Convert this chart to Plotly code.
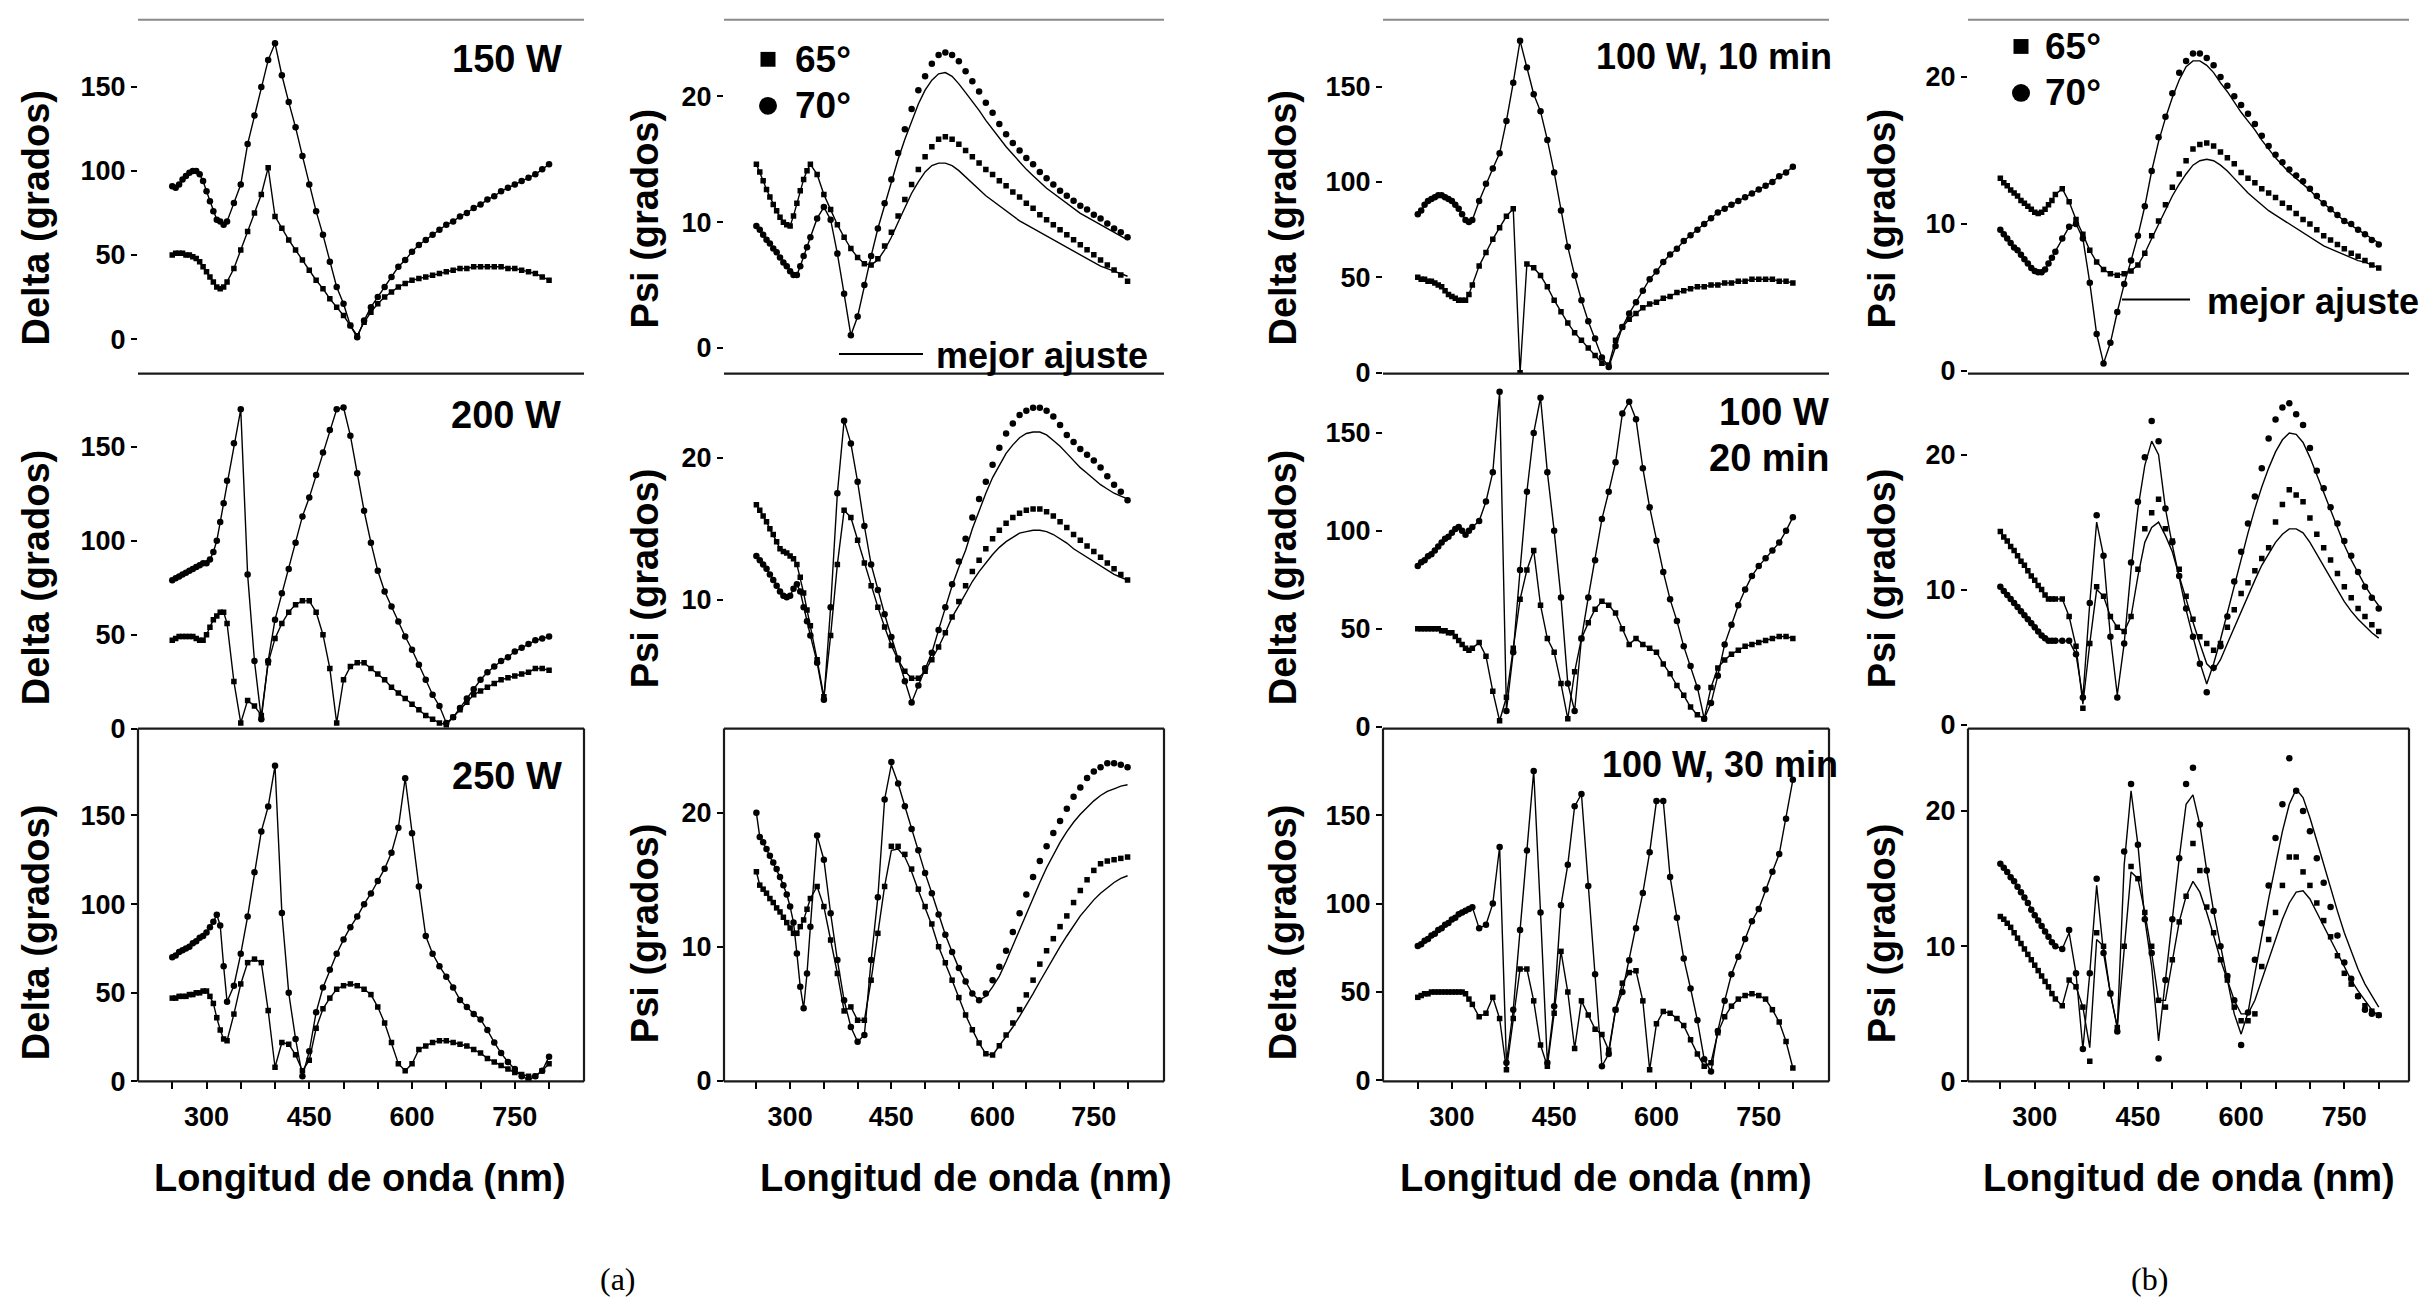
import plotly.graph_objects as go

W, H = 2421, 1310
FONT = "Liberation Sans"

# ---------------- wavelength grid (nm) ----------------
WL = [250, 255, 260, 265, 270, 275, 280, 285, 290, 295, 300, 305, 310, 315, 320, 325, 330,
      340, 350, 360, 370, 380, 390, 400, 410, 420, 430,
      440, 450, 460, 470, 480, 490, 500, 510, 520, 530,
      540, 550, 560, 570, 580, 590, 600, 610, 620, 630,
      640, 650, 660, 670, 680, 690, 700, 710, 720, 730,
      740, 750, 760, 770, 780, 790, 800]

X_TICKS = [250, 300, 350, 400, 450, 500, 550, 600, 650, 700, 750, 800]
X_TICKTEXT = ['', '300', '', '', '450', '', '', '600', '', '', '750', '']
DELTA_TICKS = [0, 50, 100, 150]
PSI_TICKS = [0, 10, 20]

# ---------------- (a) 150 W ----------------
W150_D70 = [91, 90, 92, 95, 97, 99, 100, 100, 98, 94, 88, 82, 76, 71, 70, 68, 70,
            81, 92, 116, 133, 150, 166, 176, 157, 141, 126,
            109, 92, 76, 62, 46, 31, 21, 8, 1, 11,
            19, 25, 31, 37, 43, 47, 52, 56, 59, 62,
            65, 68, 70, 73, 75, 78, 80, 83, 85, 88,
            90, 92, 94, 96, 98, 101, 104]
W150_D65 = [50, 51, 51, 51, 50, 50, 49, 48, 46, 43, 40, 37, 34, 31, 30, 31, 34,
            42, 53, 64, 75, 86, 102, 73, 66, 59, 53,
            47, 41, 35, 30, 24, 19, 14, 8, 2, 10,
            16, 21, 25, 28, 31, 33, 35, 36, 37, 38,
            39, 40, 41, 42, 42, 43, 43, 43, 43, 43,
            42, 42, 41, 40, 39, 37, 35]
W150_P70 = [9.7, 9.4, 9.0, 8.6, 8.3, 7.9, 7.6, 7.2, 6.8, 6.5, 6.1, 5.8, 5.8, 6.5, 7.3, 8.0, 8.8,
            10.3, 11.2, 10.2, 7.5, 4.3, 1.0, 2.5, 5.0, 7.3, 9.5,
            11.5, 13.4, 15.5, 17.4, 19.0, 20.5, 21.6, 22.6, 23.3, 23.5,
            23.3, 22.8, 22.0, 21.2, 20.4, 19.5, 18.7, 17.8, 17.0, 16.3,
            15.7, 15.1, 14.6, 14.0, 13.5, 13.0, 12.5, 12.1, 11.7, 11.3,
            11.0, 10.6, 10.3, 9.9, 9.5, 9.2, 8.8]
W150_P70_FIT = W150_P70[:17] + [
            10.3, 11.2, 10.2, 7.5, 4.3, 1.0, 2.5, 5.0, 7.3, 9.5,
            11.4, 13.2, 15.0, 16.6, 18.0, 19.4, 20.5, 21.3, 21.8, 21.9,
            21.6, 21.0, 20.3, 19.6, 18.9, 18.1, 17.4, 16.7, 16.0, 15.4,
            14.8, 14.2, 13.7, 13.2, 12.7, 12.3, 11.9, 11.5, 11.1, 10.7,
            10.4, 10.1, 9.8, 9.5, 9.2, 8.9, 8.6]
W150_P65 = [14.6, 14.0, 13.3, 12.6, 12.0, 11.4, 10.9, 10.4, 10.0, 9.8, 9.7, 10.5, 11.5, 12.5, 13.4, 14.1, 14.6,
            13.8, 12.2, 11.0, 9.8, 8.8, 7.9, 7.2, 6.7, 6.6, 7.1,
            8.1, 9.2, 10.5, 11.8, 13.0, 14.2, 15.2, 16.0, 16.6, 16.8,
            16.6, 16.2, 15.7, 15.2, 14.7, 14.2, 13.8, 13.3, 12.9, 12.4,
            12.0, 11.5, 11.1, 10.6, 10.2, 9.8, 9.4, 9.0, 8.6, 8.2,
            7.8, 7.4, 7.0, 6.6, 6.2, 5.8, 5.3]
W150_P65_FIT = W150_P65[:17] + [
            13.8, 12.2, 11.0, 9.8, 8.8, 7.9, 7.2, 6.7, 6.6, 7.0,
            7.8, 8.8, 10.0, 11.2, 12.3, 13.2, 14.0, 14.5, 14.7, 14.7,
            14.5, 14.1, 13.6, 13.1, 12.6, 12.1, 11.7, 11.3, 10.9, 10.5,
            10.1, 9.8, 9.5, 9.2, 8.9, 8.6, 8.3, 8.0, 7.7, 7.4,
            7.1, 6.8, 6.5, 6.3, 6.1, 5.9, 5.7]

# ---------------- (a) 200 W ----------------
W200_D70 = [79, 80, 81, 82, 83, 84, 85, 86, 87, 88, 88, 90, 94, 100, 110, 120, 132,
            152, 170, 82, 36, 5, 36, 58, 72, 85, 99,
            113, 123, 135, 147, 159, 170, 171, 156, 136, 116,
            99, 84, 73, 65, 57, 49, 42, 34, 26, 18,
            12, 3, 6, 11, 16, 21, 26, 30, 33, 36,
            38, 41, 43, 45, 47, 48, 49]
W200_D65 = [47, 48, 49, 49, 49, 49, 49, 48, 47, 47, 50, 54, 58, 60, 62, 62, 56,
            25, 3, 15, 12, 7, 35, 48, 56, 62, 66,
            68, 68, 62, 50, 32, 3, 26, 33, 35, 35,
            32, 29, 26, 22, 19, 16, 13, 10, 7, 5,
            3, 2, 6, 10, 14, 18, 20, 22, 24, 26,
            27, 28, 29, 30, 32, 32, 31]
W200_P70 = [13.1, 12.8, 12.5, 12.2, 11.8, 11.4, 11.0, 10.6, 10.3, 10.2, 10.3, 10.8, 11.1, 10.6, 9.5, 8.5, 7.5,
            5.6, 3.0, 9.5, 17.5, 22.6, 21.0, 18.3, 15.2, 12.5, 10.7,
            9.0, 7.4, 5.9, 4.3, 2.8, 4.0, 5.2, 6.3, 7.9, 9.5,
            11.1, 12.7, 14.3, 15.8, 17.1, 18.3, 19.5, 20.7, 21.7, 22.4,
            23.0, 23.3, 23.5, 23.5, 23.3, 22.9, 22.3, 21.6, 21.1, 20.6,
            20.2, 19.8, 19.3, 18.7, 18.1, 17.6, 17.0]
W200_P70_FIT = W200_P70[:17] + [
            5.6, 3.0, 9.5, 17.5, 22.6, 21.0, 18.3, 15.2, 12.5, 10.7,
            9.0, 7.4, 5.9, 4.3, 2.8, 4.0, 5.2, 6.3, 7.9, 9.5,
            11.0, 12.3, 13.5, 15.0, 16.3, 17.5, 18.6, 19.5, 20.3, 20.9,
            21.4, 21.7, 21.8, 21.8, 21.6, 21.2, 20.8, 20.3, 19.8, 19.3,
            18.9, 18.5, 18.1, 17.8, 17.5, 17.3, 17.1]
W200_P65 = [16.7, 16.3, 15.9, 15.5, 15.0, 14.6, 14.1, 13.6, 13.4, 13.3, 13.1, 12.9, 12.5, 11.6, 10.5, 9.3, 8.2,
            5.8, 3.2, 7.5, 12.5, 16.3, 15.8, 14.2, 12.6, 11.0, 9.5,
            8.1, 6.8, 5.8, 5.0, 4.5, 4.5, 5.0, 5.8, 6.7, 7.7,
            8.8, 9.9, 11.0, 12.0, 12.8, 13.6, 14.3, 14.9, 15.4, 15.8,
            16.1, 16.3, 16.4, 16.4, 16.2, 15.9, 15.5, 15.1, 14.6, 14.2,
            13.8, 13.4, 13.0, 12.6, 12.2, 11.8, 11.4]
W200_P65_FIT = W200_P65[:17] + [
            5.8, 3.2, 7.5, 12.5, 16.3, 15.8, 14.2, 12.6, 11.0, 9.5,
            8.1, 6.8, 5.8, 5.0, 4.5, 4.5, 5.0, 5.8, 6.7, 7.7,
            8.8, 9.6, 10.5, 11.3, 12.0, 12.6, 13.2, 13.7, 14.1, 14.4,
            14.7, 14.8, 14.9, 14.9, 14.8, 14.6, 14.3, 14.0, 13.6, 13.3,
            13.0, 12.7, 12.4, 12.1, 11.8, 11.6, 11.4]

# ---------------- (a) 250 W ----------------
W250_D70 = [70, 71, 73, 74, 75, 76, 78, 79, 81, 82, 84, 87, 90, 94, 88, 65, 45,
            54, 72, 93, 118, 141, 155, 178, 95, 50, 24,
            3, 17, 39, 53, 63, 72, 80, 87, 93, 100,
            106, 113, 120, 129, 143, 171, 140, 110, 82, 72,
            65, 59, 53, 46, 42, 38, 35, 29, 22, 16,
            11, 7, 3, 1, 3, 6, 14]
W250_D65 = [47, 47, 48, 48, 48, 49, 49, 50, 50, 51, 51, 48, 44, 36, 29, 24, 23,
            38, 55, 67, 69, 67, 40, 8, 22, 21, 15,
            6, 12, 30, 41, 47, 52, 54, 55, 54, 52,
            49, 42, 33, 22, 10, 6, 10, 18, 20, 22,
            23, 23, 22, 21, 20, 18, 16, 13, 11, 9,
            7, 5, 4, 3, 3, 6, 10]
W250_P70 = [20.0, 18.2, 17.8, 17.3, 16.8, 16.3, 15.8, 15.2, 14.6, 13.9, 13.0, 11.8, 9.5, 7.0, 5.4, 8.0, 11.5,
            18.3, 16.5, 12.5, 9.0, 6.0, 4.0, 2.9, 3.4, 9.0, 13.7,
            21.0, 23.8, 22.2, 20.5, 18.8, 17.2, 15.5, 14.0, 12.4, 10.9,
            9.6, 8.4, 7.4, 6.5, 6.0, 6.5, 7.5, 8.5, 9.7, 11.1,
            12.5, 13.9, 15.2, 16.4, 17.5, 18.5, 19.4, 20.3, 21.2, 21.9,
            22.6, 23.1, 23.4, 23.7, 23.7, 23.6, 23.4]
W250_P70_FIT = W250_P70[:17] + [
            18.3, 16.5, 12.5, 9.0, 6.0, 4.0, 2.9, 3.4, 9.0, 13.7,
            21.0, 23.6, 22.2, 20.5, 18.8, 17.2, 15.5, 14.0, 12.4, 10.9,
            9.6, 8.4, 7.4, 6.5, 6.0, 6.3, 7.0, 7.8, 8.9, 10.1,
            11.3, 12.5, 13.7, 14.8, 15.9, 16.9, 17.8, 18.6, 19.3, 19.9,
            20.4, 20.9, 21.3, 21.6, 21.8, 22.0, 22.1]
W250_P65 = [15.6, 14.6, 14.3, 14.0, 13.6, 13.3, 12.9, 12.6, 12.2, 11.8, 11.4, 11.0, 11.0, 11.5, 12.0, 12.8, 13.6,
            14.5, 13.0, 10.5, 8.0, 5.2, 5.5, 4.5, 4.5, 7.5, 11.0,
            14.5, 17.5, 17.5, 16.9, 15.8, 14.3, 13.0, 11.7, 10.0, 8.8,
            7.5, 6.2, 4.9, 3.8, 2.8, 2.0, 1.9, 2.6, 3.4, 4.3,
            5.3, 6.4, 7.5, 8.7, 9.7, 10.6, 11.5, 12.3, 13.3, 14.2,
            15.0, 15.7, 16.2, 16.4, 16.5, 16.6, 16.7]
W250_P65_FIT = W250_P65[:17] + [
            14.5, 13.0, 10.5, 8.0, 5.2, 5.5, 4.5, 4.5, 7.5, 11.0,
            14.5, 17.2, 17.3, 16.7, 15.6, 14.2, 12.9, 11.6, 10.0, 8.8,
            7.5, 6.2, 4.9, 3.8, 2.8, 2.0, 1.9, 2.6, 3.3, 4.0,
            4.8, 5.6, 6.5, 7.4, 8.3, 9.2, 10.0, 10.8, 11.6, 12.3,
            12.9, 13.5, 14.0, 14.4, 14.8, 15.1, 15.3]

# ---------------- (b) 100 W, 10 min ----------------
M10_D70 = [83, 85, 88, 90, 91, 92, 93, 93, 92, 91, 90, 88, 86, 83, 80, 79, 80,
           90, 99, 107, 115, 132, 152, 174, 160, 146, 137,
           122, 105, 85, 66, 51, 38, 27, 18, 8, 3,
           14, 24, 31, 37, 43, 49, 53, 58, 62, 65,
           69, 72, 75, 78, 81, 84, 86, 88, 90, 92,
           94, 96, 98, 100, 103, 105, 108]
M10_D65 = [50, 49, 49, 48, 48, 47, 46, 45, 43, 41, 40, 39, 38, 38, 38, 41, 46,
           56, 63, 70, 76, 82, 86, 0, 57, 55, 51,
           45, 38, 32, 26, 21, 17, 13, 9, 5, 4,
           17, 24, 28, 31, 34, 36, 37, 39, 40, 42,
           43, 44, 45, 45, 46, 46, 47, 47, 48, 48,
           49, 49, 49, 49, 48, 48, 47]
M10_P70 = [9.6, 9.3, 9.0, 8.7, 8.4, 8.2, 7.9, 7.6, 7.3, 7.0, 6.8, 6.7, 6.7, 6.9, 7.3, 7.7, 8.1,
           9.0, 9.8, 10.0, 9.0, 6.0, 2.5, 0.5, 1.9, 4.0, 5.9,
           7.5, 9.2, 11.2, 13.6, 15.9, 17.3, 18.9, 20.3, 21.1, 21.6,
           21.6, 21.3, 20.8, 20.0, 19.4, 18.7, 18.1, 17.5, 16.8, 16.0,
           15.3, 14.7, 14.2, 13.7, 13.3, 12.9, 12.4, 11.9, 11.4, 11.0,
           10.6, 10.2, 10.0, 9.6, 9.3, 8.9, 8.6]
M10_P70_FIT = M10_P70[:17] + [
           9.0, 9.8, 10.0, 9.0, 6.0, 2.5, 0.5, 1.9, 4.0, 5.9,
           7.5, 9.2, 11.2, 13.6, 15.6, 17.2, 18.6, 19.8, 20.7, 21.1,
           21.1, 20.8, 20.3, 19.6, 19.0, 18.3, 17.6, 17.0, 16.4, 15.7,
           15.1, 14.5, 14.0, 13.5, 13.1, 12.7, 12.3, 11.8, 11.4, 11.0,
           10.6, 10.2, 9.9, 9.6, 9.3, 9.0, 8.7]
M10_P65 = [13.1, 12.8, 12.6, 12.3, 12.1, 11.9, 11.6, 11.4, 11.2, 11.0, 10.8, 10.7, 10.8, 11.0, 11.3, 11.6, 12.0,
           12.4, 11.5, 10.3, 9.3, 8.2, 7.4, 6.9, 6.6, 6.5, 6.6,
           6.8, 7.2, 8.0, 9.2, 10.2, 11.3, 12.5, 13.4, 14.3, 15.1,
           15.4, 15.5, 15.3, 14.9, 14.5, 14.1, 13.5, 13.1, 12.8, 12.4,
           12.1, 11.8, 11.4, 11.1, 10.7, 10.3, 10.0, 9.6, 9.2, 8.9,
           8.6, 8.3, 8.0, 7.8, 7.5, 7.2, 7.0]
M10_P65_FIT = M10_P65[:17] + [
           12.4, 11.5, 10.3, 9.3, 8.2, 7.4, 6.9, 6.6, 6.5, 6.6,
           6.8, 7.2, 8.0, 9.0, 10.0, 11.0, 11.9, 12.7, 13.4, 14.0,
           14.3, 14.4, 14.3, 14.0, 13.6, 13.1, 12.6, 12.1, 11.7, 11.3,
           10.9, 10.6, 10.3, 10.0, 9.7, 9.4, 9.1, 8.8, 8.5, 8.3,
           8.1, 7.9, 7.7, 7.5, 7.4, 7.2, 7.0]

# ---------------- (b) 100 W, 20 min ----------------
M20_D70 = [82, 84, 85, 87, 88, 90, 92, 94, 96, 97, 99, 101, 102, 100, 98, 100, 102,
           105, 115, 130, 171, 8, 38, 80, 120, 150, 168,
           130, 100, 66, 22, 8, 45, 66, 85, 106, 120,
           135, 160, 166, 157, 132, 112, 95, 79, 65, 54,
           41, 31, 20, 4, 12, 26, 42, 52, 62, 70,
           77, 82, 86, 90, 94, 100, 107]
M20_D65 = [50, 50, 50, 50, 50, 50, 50, 49, 49, 48, 48, 46, 44, 42, 40, 39, 40,
           43, 36, 18, 3, 15, 40, 65, 80, 90, 62,
           45, 38, 22, 4, 28, 45, 53, 60, 64, 62,
           58, 50, 42, 45, 42, 40, 38, 32, 27, 21,
           16, 10, 6, 4, 20, 30, 34, 37, 39, 41,
           42, 43, 44, 45, 46, 46, 45]
M20_P70 = [10.2, 9.9, 9.6, 9.3, 9.0, 8.7, 8.4, 8.1, 7.8, 7.5, 7.2, 6.9, 6.6, 6.4, 6.2, 6.2, 6.2,
           6.2, 6.2, 5.2, 2.0, 9.0, 15.5, 12.5, 6.5, 2.0, 6.0,
           12.0, 16.5, 19.8, 22.5, 21.0, 16.0, 13.5, 11.0, 8.6, 6.5,
           4.5, 2.4, 4.2, 5.8, 8.0, 10.6, 12.8, 14.9, 16.9, 19.0,
           21.2, 22.6, 23.5, 23.8, 23.0, 22.2, 20.5, 18.8, 17.5, 16.1,
           14.9, 13.6, 12.5, 11.3, 10.2, 9.4, 8.6]
M20_P70_FIT = M20_P70[:17] + [
           6.2, 6.2, 5.2, 2.0, 9.0, 15.0, 12.5, 6.5, 2.2, 6.0,
           11.5, 16.0, 19.2, 21.0, 20.0, 16.0, 13.3, 10.8, 8.5, 6.5,
           4.6, 3.0, 4.5, 6.3, 8.3, 10.3, 12.3, 14.2, 16.0, 17.6,
           19.0, 20.2, 21.1, 21.6, 21.5, 20.9, 19.8, 18.5, 17.1, 15.8,
           14.5, 13.3, 12.2, 11.2, 10.3, 9.5, 8.8]
M20_P65 = [14.3, 13.9, 13.6, 13.2, 12.9, 12.5, 12.1, 11.8, 11.4, 11.0, 10.7, 10.3, 10.0, 9.6, 9.3, 9.3, 9.3,
           9.3, 8.0, 5.8, 1.2, 6.0, 10.2, 9.5, 8.0, 7.2, 6.9,
           8.0, 11.5, 14.5, 15.7, 16.7, 14.5, 13.6, 11.5, 9.5, 7.8,
           6.5, 6.0, 5.5, 6.0, 7.2, 8.5, 9.7, 10.5, 11.4, 12.3,
           13.1, 15.0, 16.3, 17.4, 17.0, 16.5, 15.3, 14.1, 13.1, 12.2,
           11.2, 10.2, 9.4, 8.6, 8.0, 7.4, 6.9]
M20_P65_FIT = M20_P65[:17] + [
           9.3, 8.0, 5.8, 1.5, 6.0, 10.0, 9.5, 8.0, 7.2, 6.9,
           8.0, 11.0, 13.5, 14.6, 15.0, 14.0, 12.8, 11.0, 9.2, 7.6,
           6.0, 4.5, 4.0, 4.8, 6.0, 7.2, 8.4, 9.6, 10.7, 11.8,
           12.7, 13.5, 14.1, 14.5, 14.5, 14.2, 13.5, 12.6, 11.7, 10.8,
           9.9, 9.1, 8.4, 7.8, 7.3, 6.8, 6.4]

# ---------------- (b) 100 W, 30 min ----------------
M30_D70 = [76, 77, 79, 80, 82, 83, 85, 86, 88, 89, 91, 92, 94, 95, 96, 97, 98,
           86, 88, 100, 132, 10, 40, 85, 130, 175, 95,
           10, 42, 99, 122, 155, 162, 110, 60, 8, 15,
           40, 50, 68, 86, 106, 129, 158, 158, 115, 92,
           69, 52, 34, 12, 5, 28, 45, 60, 70, 80,
           90, 97, 108, 118, 128, 148, 170]
M30_D65 = [47, 48, 49, 49, 50, 50, 50, 50, 50, 50, 50, 50, 50, 50, 49, 46, 43,
           36, 38, 47, 35, 6, 35, 63, 63, 45, 20,
           8, 38, 73, 50, 18, 45, 37, 29, 26, 17,
           40, 55, 61, 62, 45, 6, 32, 39, 38, 35,
           31, 23, 15, 8, 10, 27, 36, 42, 46, 48,
           49, 48, 46, 40, 33, 22, 7]
M30_P70 = [16.1, 15.8, 15.5, 15.1, 14.8, 14.4, 14.0, 13.6, 13.2, 12.7, 12.3, 11.9, 11.5, 11.1, 10.7, 10.3, 10.0,
           9.8, 11.2, 8.0, 2.4, 8.0, 15.0, 9.5, 6.5, 3.7, 17.0,
           22.0, 17.5, 12.0, 9.5, 1.7, 7.5, 12.0, 16.5, 22.0, 23.2,
           19.0, 15.6, 12.6, 10.0, 7.8, 6.0, 2.7, 5.1, 9.0, 11.7,
           14.5, 18.0, 20.5, 23.9, 21.5, 20.0, 18.5, 16.5, 14.7, 12.9,
           10.8, 8.8, 7.6, 6.3, 5.3, 5.0, 4.9]
M30_P70_FIT = M30_P70[:17] + [
           9.8, 11.0, 8.0, 2.4, 8.0, 14.5, 9.5, 6.5, 4.0, 16.0,
           21.5, 17.5, 12.0, 8.5, 3.0, 7.5, 12.0, 16.5, 20.5, 21.2,
           19.0, 15.6, 12.6, 10.0, 7.5, 5.0, 3.5, 5.1, 8.0, 10.8,
           13.5, 16.0, 18.5, 20.5, 21.6, 21.0, 19.5, 17.8, 16.0, 14.3,
           12.6, 11.0, 9.6, 8.3, 7.2, 6.3, 5.5]
M30_P65 = [12.2, 12.0, 11.7, 11.4, 11.0, 10.6, 10.2, 9.8, 9.4, 9.0, 8.6, 8.2, 7.8, 7.4, 7.0, 6.5, 6.1,
           5.6, 7.5, 7.0, 5.5, 1.5, 11.0, 10.0, 6.5, 4.0, 10.0,
           15.9, 15.0, 12.5, 10.0, 6.0, 5.5, 9.0, 11.8, 13.7, 17.6,
           15.6, 12.9, 11.0, 9.0, 7.5, 5.5, 4.5, 4.5, 5.0, 8.5,
           10.5, 12.5, 14.5, 16.6, 16.6, 15.5, 14.5, 13.2, 11.9, 10.7,
           9.3, 8.0, 7.2, 6.3, 5.6, 5.2, 4.9]
M30_P65_FIT = M30_P65[:17] + [
           5.6, 7.5, 7.0, 5.5, 2.5, 10.5, 10.0, 6.5, 4.0, 10.0,
           15.5, 15.0, 12.5, 9.5, 6.0, 6.0, 9.0, 11.8, 13.7, 14.8,
           14.0, 12.5, 10.8, 9.0, 7.5, 6.0, 5.0, 5.0, 6.0, 7.5,
           9.0, 10.5, 12.0, 13.2, 14.0, 14.1, 13.5, 12.5, 11.5, 10.4,
           9.4, 8.4, 7.5, 6.7, 6.0, 5.3, 4.8]

# ---------------- layout description ----------------
PANELS = [
    dict(r=0, c=0, kind='d', m70=W150_D70, m65=W150_D65),
    dict(r=0, c=1, kind='p', m70=W150_P70, m65=W150_P65, f70=W150_P70_FIT, f65=W150_P65_FIT),
    dict(r=0, c=2, kind='d', m70=M10_D70, m65=M10_D65),
    dict(r=0, c=3, kind='p', m70=M10_P70, m65=M10_P65, f70=M10_P70_FIT, f65=M10_P65_FIT),
    dict(r=1, c=0, kind='d', m70=W200_D70, m65=W200_D65),
    dict(r=1, c=1, kind='p', m70=W200_P70, m65=W200_P65, f70=W200_P70_FIT, f65=W200_P65_FIT),
    dict(r=1, c=2, kind='d', m70=M20_D70, m65=M20_D65),
    dict(r=1, c=3, kind='p', m70=M20_P70, m65=M20_P65, f70=M20_P70_FIT, f65=M20_P65_FIT),
    dict(r=2, c=0, kind='d', m70=W250_D70, m65=W250_D65),
    dict(r=2, c=1, kind='p', m70=W250_P70, m65=W250_P65, f70=W250_P70_FIT, f65=W250_P65_FIT),
    dict(r=2, c=2, kind='d', m70=M30_D70, m65=M30_D65),
    dict(r=2, c=3, kind='p', m70=M30_P70, m65=M30_P65, f70=M30_P70_FIT, f65=M30_P65_FIT),
]

COLS_PX = [(138, 584), (724, 1164), (1383, 1829), (1968, 2409)]
XR = [[200, 851], [202, 854], [199, 853], [203, 844]]
ROWS_PX = [(20, 378), (378, 737), (737, 1094)]
YR = [[[-20.6, 190], [-2.05, 26.1], [-0.5, 185], [-0.2, 23.9]],
      [[0, 189], [0.97, 25.9], [-1, 180.3], [-0.3, 26]],
      [[0, 199], [-0.07, 26.3], [-0.6, 199], [0, 26.1]]]


def px(x):
    return x / W


def py(y):
    return 1 - y / H


TICKFONT = dict(family=FONT, size=27, color='black', weight='bold')

fig = go.Figure()
axes = {}
for i, p in enumerate(PANELS, start=1):
    xa = 'x' if i == 1 else f'x{i}'
    ya = 'y' if i == 1 else f'y{i}'
    f70 = p.get('f70', p['m70'])
    f65 = p.get('f65', p['m65'])
    for fy in (f70, f65):
        fig.add_trace(go.Scatter(x=WL, y=fy, mode='lines', xaxis=xa, yaxis=ya,
                                 line=dict(color='black', width=1.4),
                                 showlegend=False, hoverinfo='skip'))
    fig.add_trace(go.Scatter(x=WL, y=p['m70'], mode='markers', xaxis=xa, yaxis=ya,
                             marker=dict(symbol='circle', size=6.5, color='black'),
                             showlegend=False, name='70°'))
    fig.add_trace(go.Scatter(x=WL, y=p['m65'], mode='markers', xaxis=xa, yaxis=ya,
                             marker=dict(symbol='square', size=5.5, color='black'),
                             showlegend=False, name='65°'))
    r, c = p['r'], p['c']
    c0, c1 = COLS_PX[c]
    r0, r1 = ROWS_PX[r]
    bottom = (r == 2)
    axes['xaxis' if i == 1 else f'xaxis{i}'] = dict(
        domain=[px(c0), px(c1)], range=XR[c], anchor=ya,
        showgrid=False, zeroline=False, showline=False,
        tickmode='array', tickvals=X_TICKS if bottom else [],
        ticktext=X_TICKTEXT if bottom else [],
        ticks='outside' if bottom else '', ticklen=7, tickwidth=1.5, tickcolor='black',
        showticklabels=bottom, ticklabelstandoff=4, tickfont=TICKFONT)
    axes['yaxis' if i == 1 else f'yaxis{i}'] = dict(
        domain=[py(r1), py(r0)], range=YR[r][c], anchor=xa,
        showgrid=False, zeroline=False, showline=False,
        tickmode='array', tickvals=DELTA_TICKS if p['kind'] == 'd' else PSI_TICKS,
        ticks='outside', ticklen=6, tickwidth=1.5, tickcolor='black', tickfont=TICKFONT)

shapes = []
# frame lines (scanned-figure boxes)
for (c0, c1) in COLS_PX:
    shapes.append(dict(type='line', xref='paper', yref='paper', x0=px(c0), x1=px(c1),
                       y0=py(20), y1=py(20), line=dict(color='#8a8a8a', width=2)))
    for yy in (378, 737, 1094):
        shapes.append(dict(type='line', xref='paper', yref='paper', x0=px(c0), x1=px(c1),
                           y0=py(yy), y1=py(yy), line=dict(color='#1a1a1a', width=2.2)))
    for xx in (c0, c1):
        shapes.append(dict(type='line', xref='paper', yref='paper', x0=px(xx), x1=px(xx),
                           y0=py(737), y1=py(1094), line=dict(color='#1a1a1a', width=2.2)))

annotations = []


def txt(s, x, y, size=38, xanchor='center', yanchor='middle', angle=0, family=FONT, bold=True):
    annotations.append(dict(text=s, x=px(x), y=py(y), xref='paper', yref='paper',
                            showarrow=False, xanchor=xanchor, yanchor=yanchor,
                            textangle=angle,
                            font=dict(family=family, size=size, color='black',
                                      weight='bold' if bold else 'normal')))


# legends (65°, 70°) and "mejor ajuste"
for (sx, sy, tx) in [(768, 60, 793), (2021, 47, 2043)]:
    shapes.append(dict(type='rect', xref='paper', yref='paper', x0=px(sx - 7.5), x1=px(sx + 7.5),
                       y0=py(sy + 7.5), y1=py(sy - 7.5), fillcolor='black', line=dict(width=0)))
    shapes.append(dict(type='circle', xref='paper', yref='paper', x0=px(sx - 9), x1=px(sx + 9),
                       y0=py(sy + 47 + 9), y1=py(sy + 47 - 9), fillcolor='black', line=dict(width=0)))
    txt('65°', tx, sy, size=37, xanchor='left')
    txt('70°', tx, sy + 47, size=37, xanchor='left')

for (x0, x1, yl, tx) in [(839, 923, 358, 934), (2122, 2190, 303, 2205)]:
    shapes.append(dict(type='line', xref='paper', yref='paper', x0=px(x0), x1=px(x1),
                       y0=py(yl), y1=py(yl), line=dict(color='black', width=2)))
    txt('mejor ajuste', tx, yl + 2, size=36, xanchor='left')

# sample labels
txt('150 W', 564, 60, xanchor='right')
txt('200 W', 563, 420, xanchor='right')
txt('250 W', 564, 785, xanchor='right')
txt('100 W, 10 min', 1594, 57, size=36, xanchor='left')
txt('100 W', 1831, 417, xanchor='right')
txt('20 min', 1831, 463, xanchor='right')
txt('100 W, 30 min', 1600, 773, size=36, xanchor='left')

# axis titles
YT_X = [36, 645, 1283, 1882]
YT_Y = [221, 585, 944]
for c in range(4):
    for r in range(3):
        txt('Delta (grados)' if c % 2 == 0 else 'Psi (grados)', YT_X[c], YT_Y[r], size=38, angle=-90)
XT_X = [360, 966, 1606, 2189]
for c in range(4):
    txt('Longitud de onda (nm)', XT_X[c], 1192, size=38)

txt('(a)', 618, 1294, size=32, family='Liberation Serif', bold=False)
txt('(b)', 2149, 1294, size=32, family='Liberation Serif', bold=False)

fig.update_layout(width=W, height=H, autosize=False,
                  margin=dict(l=0, r=0, t=0, b=0),
                  paper_bgcolor='white', plot_bgcolor='white',
                  showlegend=False, shapes=shapes, annotations=annotations, **axes)

fig.write_html("out.html", config={'displayModeBar': False},
               post_script="document.body.style.margin='0';")
